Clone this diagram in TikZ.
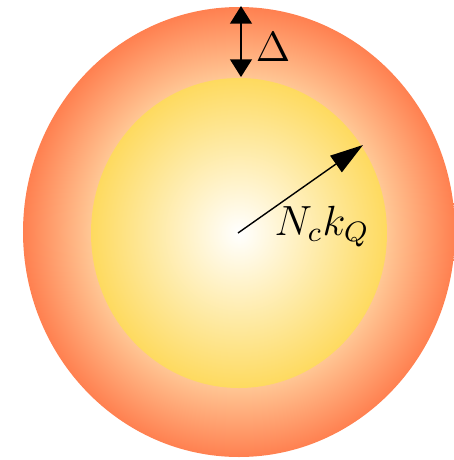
\documentclass[tikz,border=0pt]{standalone}
\usepackage{amsmath}
\usepackage{amssymb}
\usepackage{tikz}
\usetikzlibrary{arrows.meta}
\definecolor{ringin}{RGB}{255,200,150}
\definecolor{ringout}{RGB}{255,128,80}
\definecolor{coreout}{RGB}{254,218,95}
\pgfdeclareradialshading{ringshade}{\pgfpoint{0bp}{0bp}}{color(0bp)=(ringin); color(17bp)=(ringin); color(25bp)=(ringout); color(50bp)=(ringout)}

\begin{document}
\begin{tikzpicture}[x=0.01cm, y=-0.01cm,
    gap arrow/.style={{Triangle[length=5pt,width=6.2pt]}-{Triangle[length=5pt,width=6.2pt]}},
    radius arrow/.style={-{Triangle[length=9.4pt,width=5.7pt]}}]
    \useasboundingbox (0,0) rectangle (454,460);

    % Shaded disks
    \coordinate (c) at (239,232);
    \shade[shading=ringshade] (c) ellipse [x radius=216, y radius=225];
    \shade[inner color=white, outer color=coreout] (239,233) ellipse [x radius=148, y radius=155];

    % Arrows
    \coordinate (o) at (238,233);
    \coordinate (rim) at (363,145);
    \draw[radius arrow] (o) -- (rim);
    \coordinate (gtop) at (241,6);
    \coordinate (gbot) at (241,77);
    \draw[gap arrow] (gtop) -- (gbot);

    % Labels
    \node[font=\large, anchor=base] (dlab) at (273,61) {$\Delta$};
    \node[font=\large, anchor=base] (rlab) at (322,235) {$N_c k_Q$};
\end{tikzpicture}
\end{document}
